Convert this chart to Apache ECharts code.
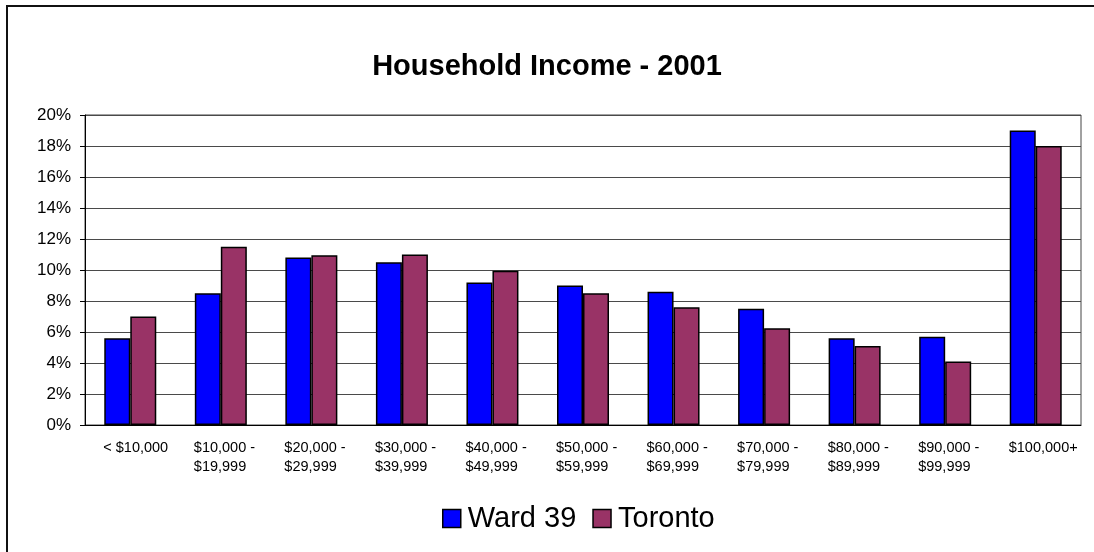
<!DOCTYPE html>
<html>
<head>
<meta charset="utf-8">
<script src="https://cdn.jsdelivr.net/npm/echarts@6/dist/echarts.min.js"></script>
<style>
  html, body { margin: 0; padding: 0; background: #fff; }
  #chart { width: 1094px; height: 552px; }
</style>
</head>
<body>
<div id="chart"></div>
<script>
// income brackets
var categories = ['< $10,000', '$10,000 -\n$19,999', '$20,000 -\n$29,999', '$30,000 -\n$39,999',
    '$40,000 -\n$49,999', '$50,000 -\n$59,999', '$60,000 -\n$69,999', '$70,000 -\n$79,999',
    '$80,000 -\n$89,999', '$90,000 -\n$99,999', '$100,000+']
// share of households, percent
var ward39 = [5.6, 8.5, 10.8, 10.5, 9.2, 9.0, 8.6, 7.5, 5.6, 5.7, 19.0]
var toronto = [7.0, 11.5, 10.95, 11.0, 9.95, 8.5, 7.6, 6.25, 5.1, 4.1, 18.0]
var yTicks = [0, 2, 4, 6, 8, 10, 12, 14, 16, 18, 20]

var font = 'Liberation Sans, Arial, sans-serif'
var chart = echarts.init(document.getElementById('chart'))

var option = {
    backgroundColor: '#fff',
    animation: false,
    title: {
        text: 'Household Income - 2001',
        left: 'center',
        top: 47,
        textStyle: { fontFamily: font, fontSize: 29, fontWeight: 'bold', color: '#000' }
    },
    legend: {
        bottom: 14,
        left: 437,
        icon: 'rect',
        itemWidth: 18,
        itemHeight: 18,
        itemGap: 16,
        itemStyle: { borderColor: '#000', borderWidth: 1.5 },
        textStyle: { fontFamily: font, fontSize: 29, color: '#000', padding: [0, 0, 0, 2] },
        data: ['Ward 39', 'Toronto']
    },
    grid: { left: 85, right: 13, top: 115, bottom: 127, show: true, borderColor: '#444', borderWidth: 1 },
    xAxis: {
        type: 'category',
        data: categories,
        axisLine: { lineStyle: { color: '#000', width: 1 } },
        axisTick: { show: false },
        axisLabel: {
            interval: 0,
            margin: 13,
            padding: [0, 0, 0, 12],
            formatter: function (v) {
                return v.split('\n').map(function (s) { return '{a|' + s + '}' }).join('\n')
            },
            rich: {
                a: { width: 66, align: 'left', fontFamily: font, fontSize: 14.5, lineHeight: 19, color: '#000' }
            }
        }
    },
    yAxis: {
        type: 'value',
        min: yTicks[0],
        max: yTicks[yTicks.length - 1],
        interval: 2,
        axisLine: { show: true, lineStyle: { color: '#000', width: 1 } },
        axisTick: { show: true, length: 5, lineStyle: { color: '#000' } },
        axisLabel: { fontFamily: font, fontSize: 17, color: '#000', margin: 14, formatter: '{value}%' },
        splitLine: { lineStyle: { color: '#4a4a4a', width: 1 } }
    },
    series: [
        {
            name: 'Ward 39',
            type: 'bar',
            data: ward39,
            barWidth: 26,
            barGap: '0%',
            itemStyle: { color: '#0000ff', borderColor: '#000', borderWidth: 1.5 }
        },
        {
            name: 'Toronto',
            type: 'bar',
            data: toronto,
            barWidth: 26,
            itemStyle: { color: '#993366', borderColor: '#000', borderWidth: 1.5 }
        }
    ],
    graphic: [{
        type: 'rect',
        shape: { x: 7, y: 6, width: 1100, height: 560 },
        style: { fill: null, stroke: '#111', lineWidth: 2 },
        silent: true
    }]
}
chart.setOption(option)
</script>
</body>
</html>
